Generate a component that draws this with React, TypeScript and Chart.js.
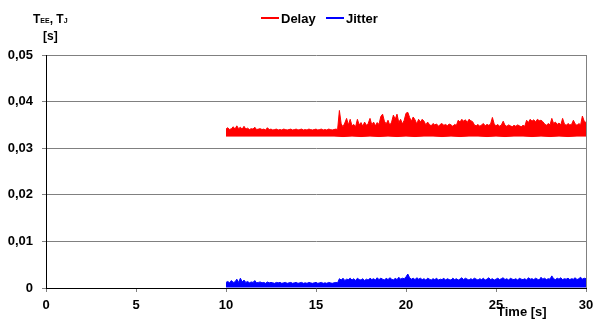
import React, { useEffect, useRef } from 'react';
import { Chart, registerables } from 'chart.js';

Chart.register(...registerables);

// Sampling of the measured envelopes (seconds)
const SAMPLE_START = 10;
const SAMPLE_STEP = 0.1;
const LOWER_STEP = 0.5;

// Upper edge of the end-to-end delay band, T_EE [s], one value per 0.1 s from 10 s to 30 s
const delayUpper = [
  0.0341, 0.0344, 0.0340, 0.0342, 0.0346, 0.0341, 0.0348, 0.0342, 0.0345, 0.0341,
  0.0347, 0.0341, 0.0343, 0.0340, 0.0342, 0.0341, 0.0345, 0.0340, 0.0341, 0.0342,
  0.0340, 0.0341, 0.0339, 0.0344, 0.0340, 0.0341, 0.0339, 0.0340, 0.0341, 0.0339,
  0.0340, 0.0339, 0.0341, 0.0340, 0.0339, 0.0340, 0.0341, 0.0339, 0.0340, 0.0341,
  0.0339, 0.0340, 0.0341, 0.0339, 0.0340, 0.0339, 0.0341, 0.0340, 0.0339, 0.0340,
  0.0341, 0.0339, 0.0340, 0.0341, 0.0339, 0.0340, 0.0339, 0.0341, 0.0340, 0.0339,
  0.0340, 0.0341, 0.0340, 0.0381, 0.0352, 0.0346, 0.0354, 0.0364, 0.0350, 0.0362,
  0.0348, 0.0351, 0.0346, 0.0362, 0.0350, 0.0355, 0.0347, 0.0356, 0.0349, 0.0353,
  0.0364, 0.0350, 0.0356, 0.0348, 0.0355, 0.0351, 0.0368, 0.0373, 0.0358, 0.0352,
  0.0360, 0.0349, 0.0356, 0.0371, 0.0362, 0.0373, 0.0355, 0.0362, 0.0352, 0.0360,
  0.0375, 0.0377, 0.0366, 0.0358, 0.0367, 0.0361, 0.0352, 0.0362, 0.0356, 0.0362,
  0.0358, 0.0350, 0.0356, 0.0351, 0.0348, 0.0353, 0.0350, 0.0352, 0.0347, 0.0351,
  0.0353, 0.0349, 0.0351, 0.0348, 0.0352, 0.0350, 0.0347, 0.0351, 0.0349, 0.0360,
  0.0356, 0.0362, 0.0358, 0.0361, 0.0355, 0.0362, 0.0359, 0.0357, 0.0350, 0.0348,
  0.0351, 0.0347, 0.0350, 0.0353, 0.0348, 0.0351, 0.0349, 0.0352, 0.0366, 0.0352,
  0.0348, 0.0351, 0.0347, 0.0350, 0.0358, 0.0349, 0.0347, 0.0350, 0.0348, 0.0346,
  0.0349, 0.0347, 0.0350, 0.0348, 0.0346, 0.0349, 0.0347, 0.0360, 0.0355, 0.0362,
  0.0358, 0.0361, 0.0356, 0.0362, 0.0359, 0.0360, 0.0357, 0.0352, 0.0349, 0.0353,
  0.0350, 0.0364, 0.0353, 0.0356, 0.0351, 0.0354, 0.0350, 0.0364, 0.0352, 0.0349,
  0.0353, 0.0350, 0.0351, 0.0360, 0.0352, 0.0349, 0.0353, 0.0350, 0.0369, 0.0358,
  0.0355,
];

// Lower edge of the delay band [s], one value per 0.5 s from 10 s to 30 s
const delayLower = [
  0.0326, 0.0326, 0.0326, 0.0326, 0.0326, 0.0326, 0.0326, 0.0326, 0.0326, 0.0326,
  0.0326, 0.0326, 0.0326, 0.0325, 0.0326, 0.0325, 0.0326, 0.0325, 0.0326, 0.0325,
  0.0326, 0.0325, 0.0326, 0.0326, 0.0325, 0.0326, 0.0325, 0.0326, 0.0326, 0.0325,
  0.0326, 0.0325, 0.0326, 0.0326, 0.0325, 0.0326, 0.0325, 0.0326, 0.0325, 0.0326,
  0.0326,
];

// Upper edge of the jitter band, T_J [s], one value per 0.1 s from 10 s to 30 s
const jitterUpper = [
  0.0012, 0.0014, 0.0011, 0.0016, 0.0012, 0.0013, 0.0019, 0.0012, 0.0021, 0.0013,
  0.0017, 0.0012, 0.0014, 0.0011, 0.0013, 0.0012, 0.0016, 0.0011, 0.0012, 0.0013,
  0.0011, 0.0012, 0.0010, 0.0013, 0.0011, 0.0012, 0.0011, 0.0010, 0.0012, 0.0011,
  0.0012, 0.0010, 0.0011, 0.0012, 0.0010, 0.0011, 0.0012, 0.0010, 0.0011, 0.0012,
  0.0010, 0.0011, 0.0012, 0.0010, 0.0011, 0.0010, 0.0012, 0.0011, 0.0010, 0.0011,
  0.0012, 0.0010, 0.0011, 0.0012, 0.0010, 0.0011, 0.0010, 0.0012, 0.0011, 0.0010,
  0.0011, 0.0012, 0.0011, 0.0020, 0.0017, 0.0021, 0.0016, 0.0019, 0.0018, 0.0021,
  0.0017, 0.0020, 0.0016, 0.0021, 0.0018, 0.0017, 0.0020, 0.0016, 0.0019, 0.0017,
  0.0021, 0.0018, 0.0020, 0.0017, 0.0022, 0.0018, 0.0021, 0.0019, 0.0017, 0.0021,
  0.0018, 0.0022, 0.0019, 0.0017, 0.0021, 0.0018, 0.0023, 0.0019, 0.0021, 0.0020,
  0.0024, 0.0030, 0.0022, 0.0019, 0.0021, 0.0018, 0.0022, 0.0019, 0.0021, 0.0018,
  0.0020, 0.0017, 0.0021, 0.0019, 0.0017, 0.0020, 0.0018, 0.0021, 0.0017, 0.0019,
  0.0018, 0.0021, 0.0017, 0.0020, 0.0018, 0.0017, 0.0021, 0.0018, 0.0020, 0.0017,
  0.0019, 0.0022, 0.0018, 0.0021, 0.0019, 0.0017, 0.0020, 0.0018, 0.0021, 0.0019,
  0.0017, 0.0020, 0.0018, 0.0021, 0.0017, 0.0019, 0.0022, 0.0018, 0.0020, 0.0017,
  0.0019, 0.0021, 0.0018, 0.0020, 0.0022, 0.0018, 0.0020, 0.0017, 0.0021, 0.0019,
  0.0018, 0.0020, 0.0017, 0.0021, 0.0019, 0.0018, 0.0020, 0.0017, 0.0022, 0.0019,
  0.0020, 0.0018, 0.0021, 0.0019, 0.0017, 0.0023, 0.0019, 0.0021, 0.0018, 0.0020,
  0.0019, 0.0026, 0.0020, 0.0018, 0.0021, 0.0019, 0.0022, 0.0018, 0.0020, 0.0019,
  0.0021, 0.0018, 0.0020, 0.0019, 0.0022, 0.0018, 0.0020, 0.0023, 0.0019, 0.0021,
  0.0020,
];
const jitterLower = 0.0001;

// Axis ranges
const X_MIN = 0;
const X_MAX = 30;
const X_STEP = 5;
const Y_MIN = 0;
const Y_MAX = 0.05;
const Y_STEP = 0.01;

const RED = '#ff0000';
const BLUE = '#0000ff';
const FONT = "'Liberation Sans', Arial, sans-serif";

const toPoints = (values: number[], step: number) =>
  values.map((y, i) => ({ x: SAMPLE_START + i * step, y }));

const formatSeconds = (v: number) => (v === 0 ? '0' : v.toFixed(2).replace('.', ','));

export default function App() {
  const canvasRef = useRef<HTMLCanvasElement | null>(null);

  useEffect(() => {
    const canvas = canvasRef.current;
    if (!canvas) return;

    const chart = new Chart(canvas, {
      type: 'line',
      data: {
        datasets: [
          {
            label: 'Delay',
            data: toPoints(delayUpper, SAMPLE_STEP),
            borderColor: RED,
            backgroundColor: RED,
            borderWidth: 1,
            pointRadius: 0,
            tension: 0,
            fill: '+1',
          },
          {
            label: 'Delay (min)',
            data: toPoints(delayLower, LOWER_STEP),
            borderColor: RED,
            backgroundColor: RED,
            borderWidth: 1,
            pointRadius: 0,
            tension: 0,
            fill: false,
          },
          {
            label: 'Jitter',
            data: toPoints(jitterUpper, SAMPLE_STEP),
            borderColor: BLUE,
            backgroundColor: BLUE,
            borderWidth: 1,
            pointRadius: 0,
            tension: 0,
            fill: { value: jitterLower },
          },
        ],
      },
      options: {
        responsive: false,
        animation: false,
        events: [],
        layout: { padding: { top: 55, right: 7, bottom: 0, left: 0 } },
        plugins: {
          legend: { display: false },
          tooltip: { enabled: false },
        },
        scales: {
          x: {
            type: 'linear',
            min: X_MIN,
            max: X_MAX,
            afterFit: (scale: any) => {
              scale.height = 32;
              // the last tick label may run past the plot edge
              scale.paddingLeft = 0;
              scale.paddingRight = 0;
            },
            ticks: {
              stepSize: X_STEP,
              color: '#000',
              padding: 6,
              maxRotation: 0,
              font: { family: FONT, size: 13, weight: 'bold' },
            },
            grid: {
              color: (ctx: any) => (ctx.tick && ctx.tick.value === X_MAX ? '#808080' : 'rgba(0,0,0,0)'),
              tickColor: '#808080',
              tickLength: 4,
              lineWidth: 1,
            },
            border: { color: '#000', width: 1 },
          },
          y: {
            type: 'linear',
            min: Y_MIN,
            max: Y_MAX,
            afterFit: (scale: any) => {
              scale.width = 46;
            },
            ticks: {
              stepSize: Y_STEP,
              color: '#000',
              padding: 9,
              font: { family: FONT, size: 13, weight: 'bold' },
              callback: (v: any) => formatSeconds(Number(v)),
            },
            grid: {
              color: '#808080',
              tickColor: '#808080',
              tickLength: 4,
              lineWidth: 1,
            },
            border: { color: '#000', width: 1 },
          },
        },
      },
    });

    return () => chart.destroy();
  }, []);

  const text: React.CSSProperties = {
    position: 'absolute',
    fontFamily: FONT,
    fontWeight: 700,
    color: '#000',
    whiteSpace: 'nowrap',
  };

  return (
    <div
      style={{
        position: 'fixed',
        left: 0,
        top: 0,
        width: 593,
        height: 320,
        background: '#fff',
        overflow: 'hidden',
      }}
    >
      <canvas ref={canvasRef} width={593} height={320} style={{ display: 'block' }} />

      {/* y-axis title */}
      <div style={{ ...text, left: 33, top: 12, fontSize: 12, lineHeight: '14px' }}>
        T<span style={{ fontSize: 7 }}>EE</span>, T<span style={{ fontSize: 7 }}>J</span>
      </div>
      <div style={{ ...text, left: 43, top: 29, fontSize: 12, lineHeight: '14px' }}>[s]</div>

      {/* legend */}
      <div style={{ position: 'absolute', left: 261, top: 17, width: 18, height: 2, background: RED }} />
      <div style={{ ...text, left: 281, top: 11, fontSize: 13, lineHeight: '15px' }}>Delay</div>
      <div style={{ position: 'absolute', left: 326, top: 17, width: 18, height: 2, background: BLUE }} />
      <div style={{ ...text, left: 346, top: 11, fontSize: 13, lineHeight: '15px' }}>Jitter</div>

      {/* x-axis title */}
      <div style={{ ...text, left: 497, top: 304, fontSize: 13, lineHeight: '15px' }}>Time [s]</div>
    </div>
  );
}
